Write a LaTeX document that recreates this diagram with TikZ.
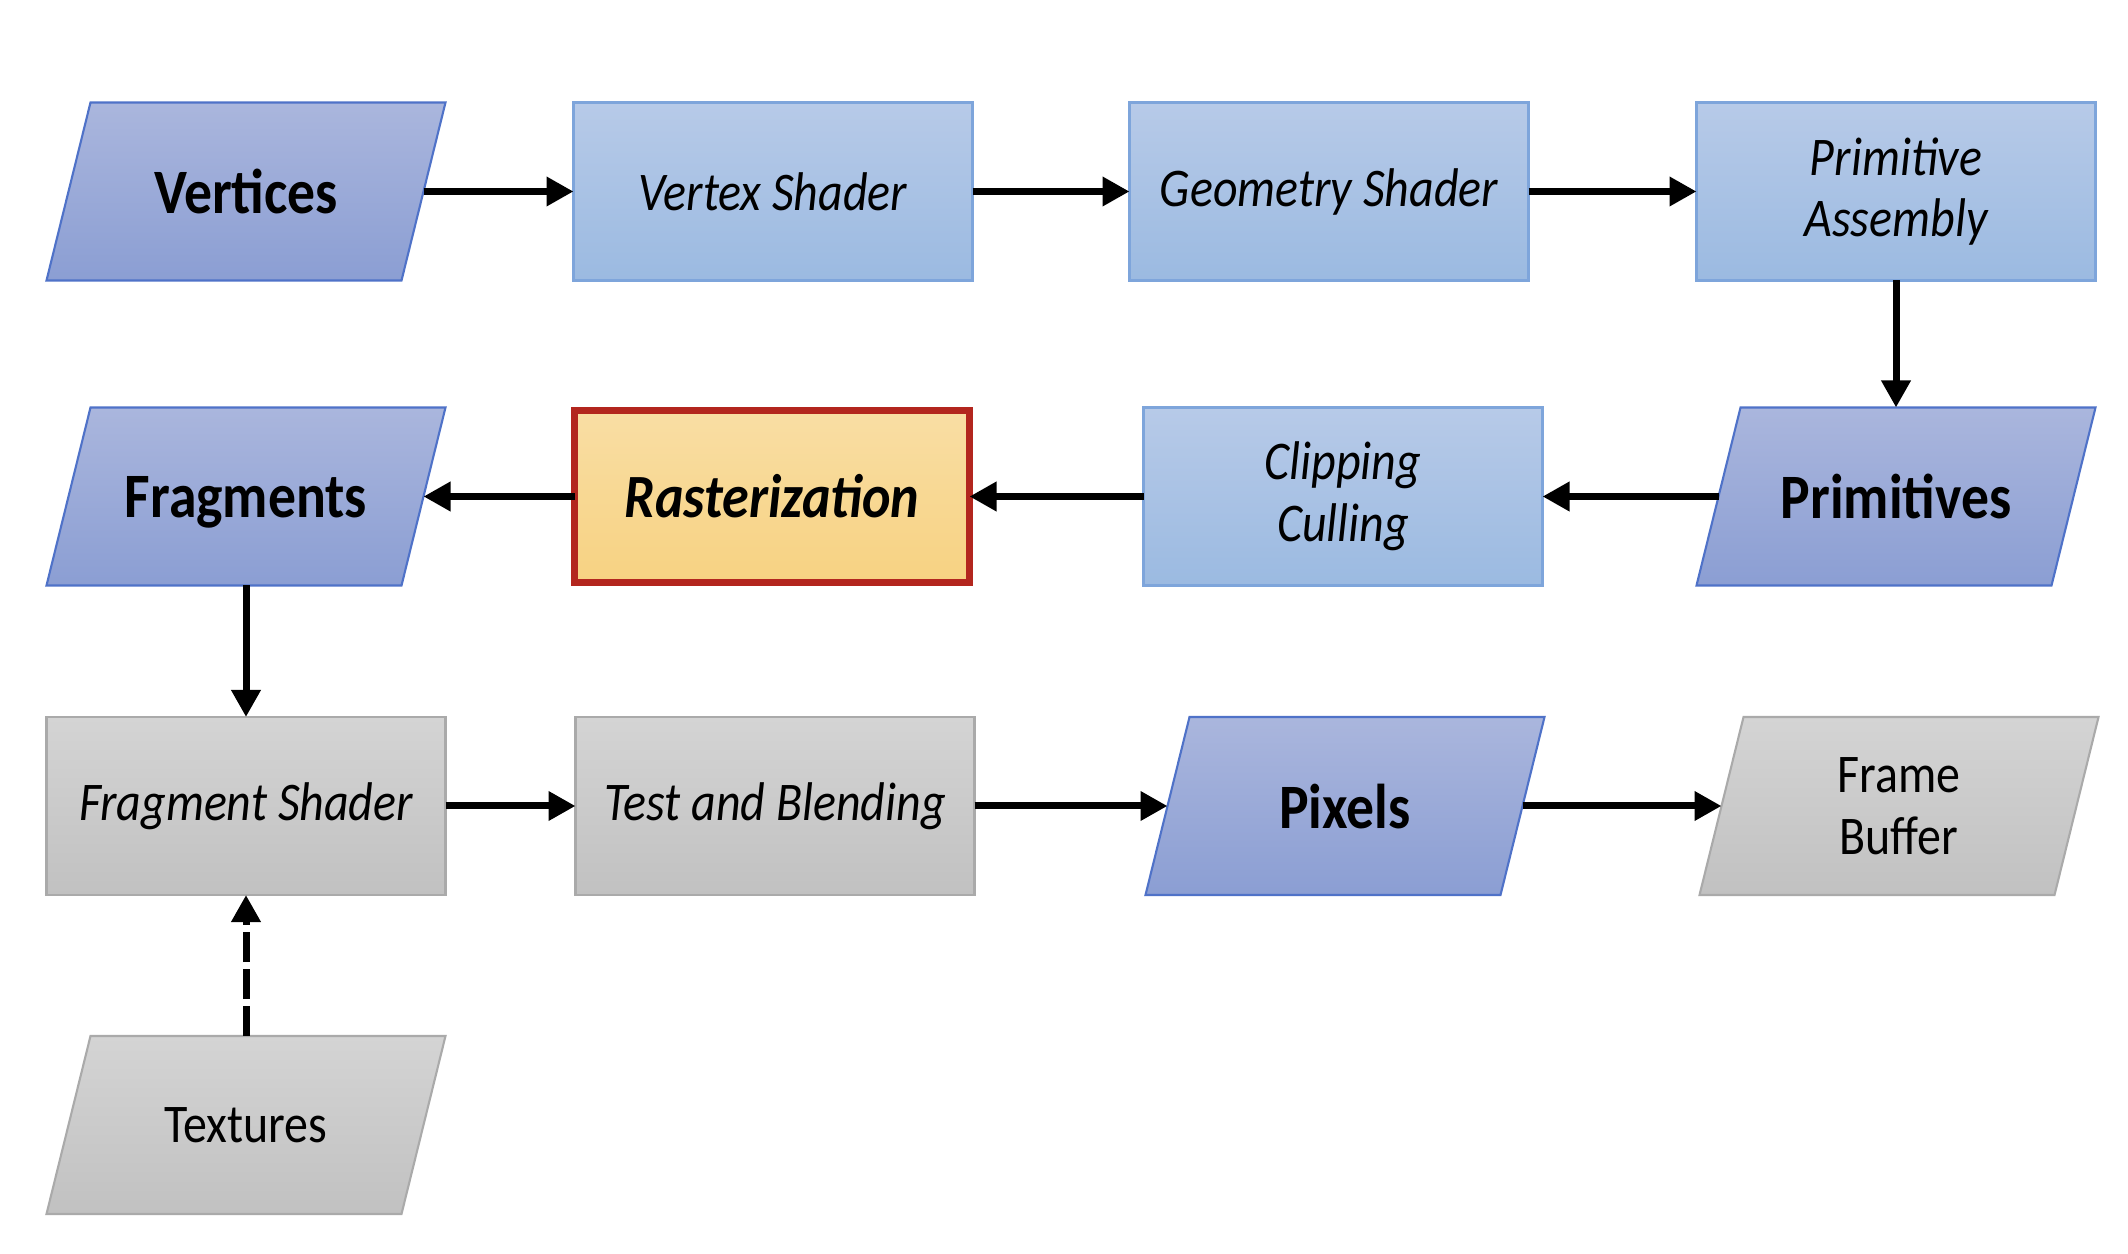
\documentclass[tikz,border=0pt]{standalone}
\usepackage{fontspec}
\setmainfont{Carlito}[FakeStretch=0.88]
\usetikzlibrary{arrows.meta}
\definecolor{dataTop}{HTML}{AAB6DD}
\definecolor{dataBot}{HTML}{8B9ED3}
\definecolor{dataLine}{HTML}{4F72C8}
\definecolor{stageTop}{HTML}{B7CAE8}
\definecolor{stageBot}{HTML}{9BBAE1}
\definecolor{stageLine}{HTML}{7EA5DB}
\definecolor{rastTop}{HTML}{F9DEA4}
\definecolor{rastBot}{HTML}{F7D282}
\definecolor{rastLine}{HTML}{B3261E}
\definecolor{greyTop}{HTML}{D4D4D4}
\definecolor{greyBot}{HTML}{C1C1C1}
\definecolor{greyLine}{HTML}{AAAAAA}
\pgfdeclarelayer{back}
\pgfsetlayers{back,main}
\begin{document}
\begin{tikzpicture}[
  box/.style={rectangle,minimum width=3.99cm,minimum height=1.78cm,inner sep=0pt,outer sep=0pt,align=center,line width=0.6pt},
  % parallelogram drawn behind a plain text node
  datum/.style={rectangle,minimum width=3.55cm,minimum height=1.78cm,inner sep=0pt,outer sep=0pt,align=center,
    append after command={\pgfextra{\begin{pgfonlayer}{back}
      \draw[line width=0.6pt,#1] ([xshift=0.22cm]\tikzlastnode.north west) -- ([xshift=0.22cm]\tikzlastnode.north east)
        -- ([xshift=-0.22cm]\tikzlastnode.south east) -- ([xshift=-0.22cm]\tikzlastnode.south west) -- cycle;
    \end{pgfonlayer}}}},
  bluedata/.style={datum={top color=dataTop,bottom color=dataBot,draw=dataLine},text depth=0pt,font=\fontsize{18}{20}\selectfont\bfseries},
  stage/.style={box,top color=stageTop,bottom color=stageBot,draw=stageLine,font=\fontsize{15.5}{17.5}\selectfont\itshape},
  raster/.style={box,minimum width=3.95cm,minimum height=1.72cm,top color=rastTop,bottom color=rastBot,draw=rastLine,line width=0.07cm,
    font=\fontsize{17.5}{20}\selectfont\bfseries\itshape},
  greystage/.style={box,top color=greyTop,bottom color=greyBot,draw=greyLine,font=\fontsize{15.5}{17.5}\selectfont\itshape},
  greydata/.style={datum={top color=greyTop,bottom color=greyBot,draw=greyLine},font=\fontsize{15.5}{17.5}\selectfont},
  flow/.style={-{Triangle[length=0.27cm,width=0.28cm]},line width=0.07cm},
]
\useasboundingbox (0,0) rectangle (21.28,-12.54);
% first row
\node[bluedata] (vert) at (2.46,-1.915) {Vertices};
\node[stage] (vsh) at (7.73,-1.915) {Vertex Shader};
\node[stage] (gsh) at (13.29,-1.915) {Geometry Shader};
\node[stage] (asm) at (18.96,-1.915) {Primitive\\Assembly};
% second row
\node[bluedata] (frag) at (2.46,-4.965) {Fragments};
\node[raster] (rast) at (7.72,-4.965) {Rasterization};
\node[stage] (clip) at (13.43,-4.965) {Clipping\\Culling};
\node[bluedata] (prim) at (18.96,-4.965) {Primitives};
% third row
\node[greystage] (fsh) at (2.46,-8.06) {Fragment Shader};
\node[greystage] (blend) at (7.75,-8.06) {Test and Blending};
\node[bluedata] (pix) at (13.45,-8.06) {Pixels};
\node[greydata] (fbuf) at (18.99,-8.06) {Frame\\Buffer};
% textures
\node[greydata] (tex) at (2.46,-11.25) {Textures};
% arrows
\draw[flow] (vert) -- (vsh);
\draw[flow] (vsh) -- (gsh);
\draw[flow] (gsh) -- (asm);
\draw[flow] (asm) -- (prim);
\draw[flow] (prim) -- (clip);
\draw[flow] (clip) -- (rast);
\draw[flow] (rast) -- (frag);
\draw[flow] (frag) -- (fsh);
\draw[flow] (fsh) -- (blend);
\draw[flow] (blend) -- (pix);
\draw[flow] (pix) -- (fbuf);
\draw[flow,dash pattern=on 0.3cm off 0.07cm] (tex) -- (fsh);
\end{tikzpicture}
\end{document}
